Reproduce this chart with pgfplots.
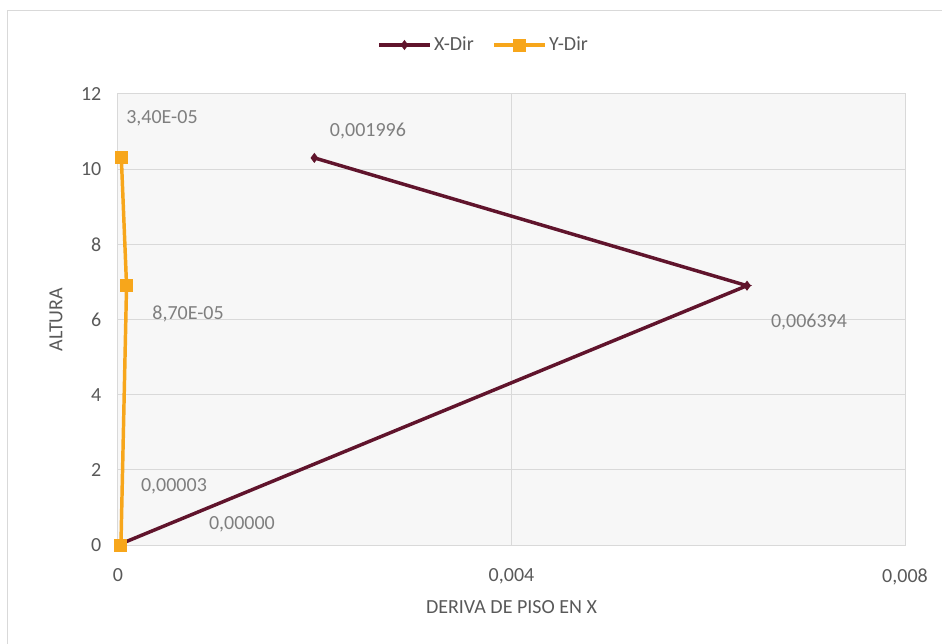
\documentclass[border=0pt]{standalone}
\usepackage{pgfplots}
\pgfplotsset{compat=1.18}
\usepackage{fontspec}
\setmainfont{Carlito}

\definecolor{xdir}{RGB}{96,20,44}
\definecolor{ydir}{RGB}{247,166,27}
\definecolor{gridc}{RGB}{217,217,217}
\definecolor{txt}{RGB}{89,89,89}
\definecolor{lbl}{RGB}{127,127,127}
\definecolor{plotbg}{RGB}{247,247,247}

\begin{document}
\begin{tikzpicture}
\path[use as bounding box] (-88.5pt,-73.5pt) rectangle (618pt,408.75pt);
\draw[gridc, line width=0.75pt] (-82.5pt,-100pt) -- (-82.5pt,400.5pt) -- (700pt,400.5pt);
\begin{axis}[
    scale only axis,
    width=590.25pt, height=338.25pt,
    at={(0,0)}, anchor=south west,
    xmin=0, xmax=0.008, ymin=0, ymax=12,
    xtick={0,0.004,0.008},
    xticklabels={0,{0,004},{0,008}},
    ytick={0,2,...,12},
    scaled x ticks=false,
    grid=major,
    grid style={gridc, line width=0.75pt},
    axis line style={gridc, line width=0.75pt},
    axis background/.style={fill=plotbg},
    major tick length=0pt,
    /pgf/number format/assume math mode=true,
    tick label style={font=\fontsize{15}{18}\selectfont, text=txt},
    xticklabel style={yshift=-14pt},
    yticklabel style={xshift=-9pt},
    xlabel={DERIVA DE PISO EN X},
    ylabel={ALTURA},
    every axis x label/.style={at={([yshift=-46.5pt]axis description cs:0.5,0)}, anchor=center},
    every axis y label/.style={at={([xshift=-46.5pt]axis description cs:0,0.5)}, anchor=center, rotate=90},
    label style={font=\fontsize{15}{18}\selectfont, text=txt},
    clip=false,
    legend columns=2,
    legend style={at={(0.465,1.1086)}, anchor=center, draw=none, fill=none,
        font=\fontsize{15}{18}\selectfont, text=txt,
        /tikz/every even column/.append style={column sep=12pt}},
    legend image code/.code={
        \draw[mark repeat=2, mark phase=2, #1] plot coordinates {(0pt,0pt) (19pt,0pt) (38pt,0pt)};
    },
]
% X-Dir
\addplot[xdir, line width=2.6pt, mark=diamond*, mark size=3.2pt,
    mark options={line width=0.75pt}]
    coordinates {(0,0) (0.006394,6.9) (0.001996,10.3)};
\addlegendentry{X-Dir}
% Y-Dir
\addplot[ydir, line width=2.6pt, mark=square*, mark size=4.5pt,
    mark options={line width=0.75pt}]
    coordinates {(0.00003,0) (0.000087,6.9) (0.000034,10.3)};
\addlegendentry{Y-Dir}

% data labels
\begin{scope}[every node/.style={text=lbl, font=\fontsize{15}{18}\selectfont, anchor=center}]
\node at (axis cs:0.000447,11.36) {3,40E-05};
\node at (axis cs:0.002541,11.02) {0,001996};
\node at (axis cs:0.007024,5.93) {0,006394};
\node at (axis cs:0.000712,6.15) {8,70E-05};
\node at (axis cs:0.000569,1.57) {0,00003};
\node at (axis cs:0.00126,0.56) {0,00000};
\end{scope}
\end{axis}
\end{tikzpicture}
\end{document}
